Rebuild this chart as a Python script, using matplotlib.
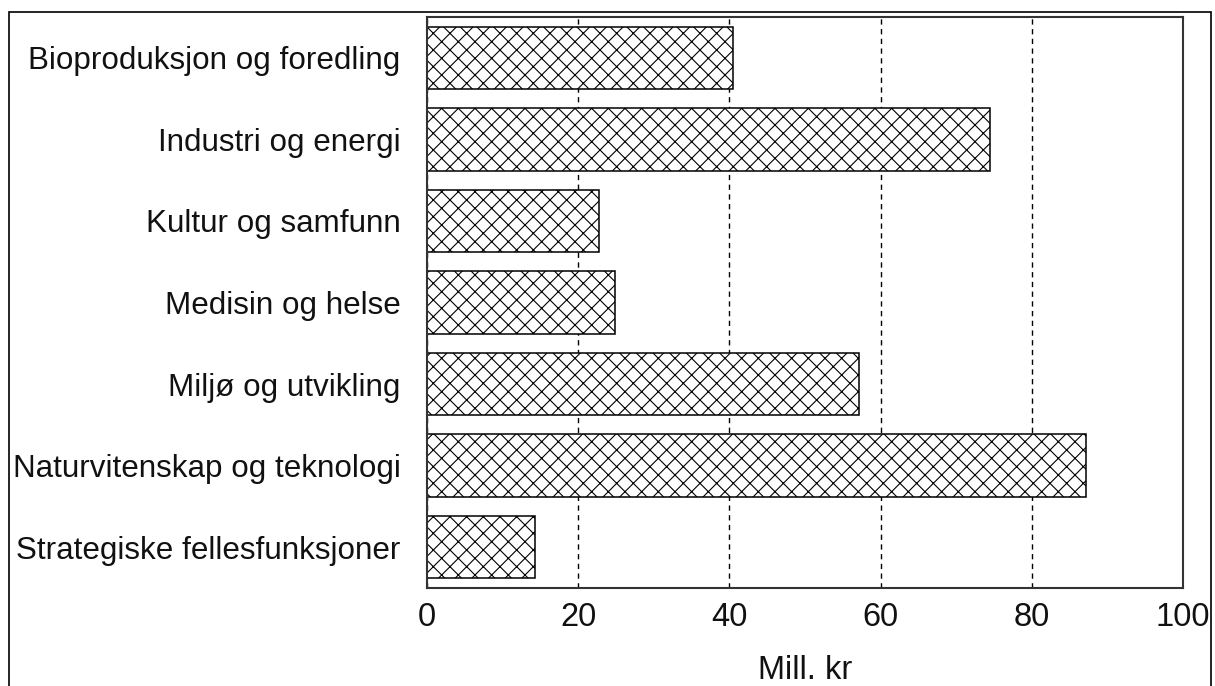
import matplotlib
matplotlib.use("Agg")
import matplotlib.pyplot as plt
from matplotlib.patches import Rectangle

categories = [
    "Bioproduksjon og foredling",
    "Industri og energi",
    "Kultur og samfunn",
    "Medisin og helse",
    "Miljø og utvikling",
    "Naturvitenskap og teknologi",
    "Strategiske fellesfunksjoner",
]
values = [40.5, 74.5, 22.8, 24.9, 57.1, 87.2, 14.3]
xticks = [0, 20, 40, 60, 80, 100]
xlabel = "Mill. kr"

plt.rcParams['font.family'] = ['Liberation Sans', 'DejaVu Sans']
plt.rcParams['hatch.linewidth'] = 0.8
plt.rcParams['hatch.color'] = 'black'

W, H = 1215, 686
fig = plt.figure(figsize=(W / 100, H / 100), dpi=100)
fig.patch.set_facecolor('white')

left, right, top, bottom = 427, 1183, 17, 588
ax = fig.add_axes([left / W, 1 - bottom / H, (right - left) / W, (bottom - top) / H])

ypos = list(range(len(categories)))
ax.barh(ypos, values, height=0.767, color='white', edgecolor='black',
        linewidth=1.1, hatch='xx', zorder=3)

ax.set_xlim(0, 100)
ax.set_ylim(len(categories) - 0.5, -0.5)
ax.set_xticks(xticks)
ax.set_xticklabels([str(t) for t in xticks])
ax.set_yticks(ypos)
ax.set_yticklabels(categories)

ax.tick_params(axis='x', length=0, pad=10, labelsize=23.5, colors='#111111')
ax.tick_params(axis='y', length=0, pad=19, labelsize=22.6, colors='#111111')

ax.grid(axis='x', color='black', linestyle=(0, (3.8, 3.2)), linewidth=1.0, zorder=1)
ax.grid(axis='y', visible=False)
ax.set_axisbelow(True)

for s in ax.spines.values():
    s.set_linewidth(1.5)
    s.set_color('#333333')
    s.set_zorder(4)

ax.set_xlabel(xlabel, fontsize=23.5, color='#111111')
ax.xaxis.label.set_va('baseline')
ax.xaxis.set_label_coords(0.5, (bottom - 679) / (bottom - top))

frame = Rectangle((9 / W, -0.05), (1211 - 9) / W, (1 - 12 / H) + 0.05,
                  transform=fig.transFigure, fill=False, edgecolor='black',
                  linewidth=1.2, clip_on=False)
fig.patches.append(frame)

fig.savefig("out.png", dpi=100, facecolor='white')
